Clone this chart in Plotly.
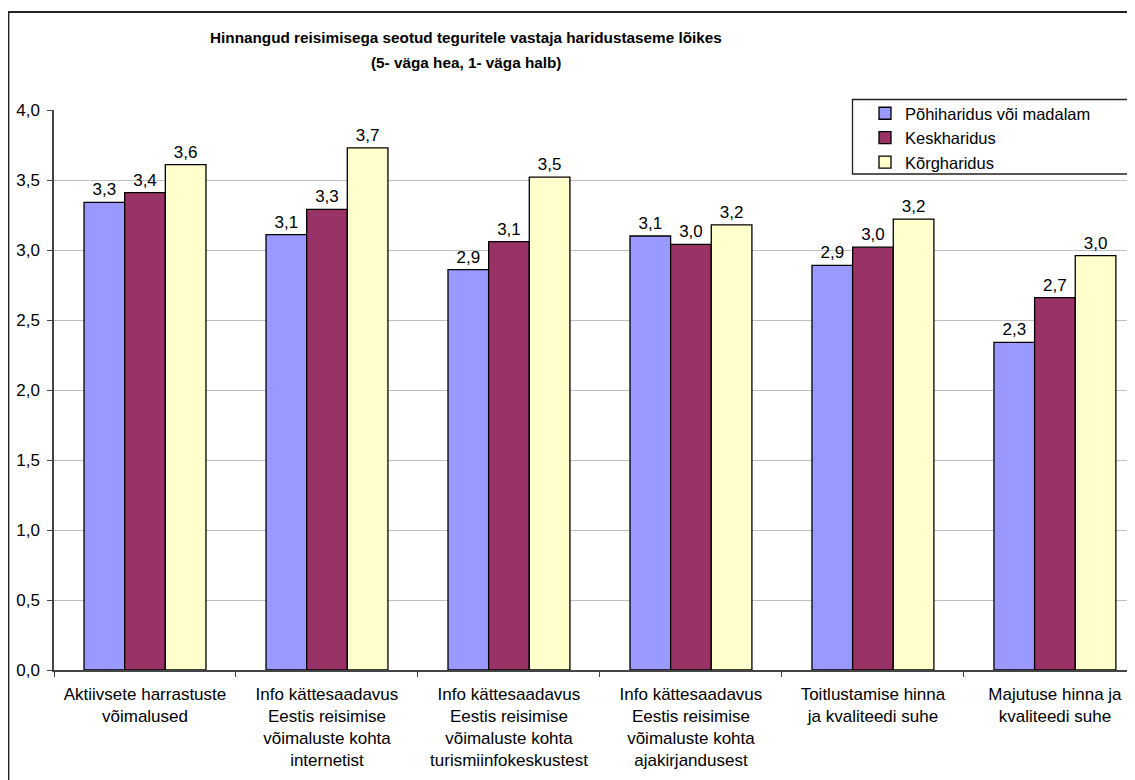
import plotly.graph_objects as go

categories = [
    "Aktiivsete harrastuste<br>võimalused",
    "Info kättesaadavus<br>Eestis reisimise<br>võimaluste kohta<br>internetist",
    "Info kättesaadavus<br>Eestis reisimise<br>võimaluste kohta<br>turismiinfokeskustest",
    "Info kättesaadavus<br>Eestis reisimise<br>võimaluste kohta<br>ajakirjandusest",
    "Toitlustamise hinna<br>ja kvaliteedi suhe",
    "Majutuse hinna ja<br>kvaliteedi suhe",
]
series_names = ["Põhiharidus või madalam", "Keskharidus", "Kõrgharidus"]
pohi = [3.34, 3.11, 2.86, 3.10, 2.89, 2.34]
kesk = [3.41, 3.29, 3.06, 3.04, 3.02, 2.66]
korg = [3.61, 3.73, 3.52, 3.18, 3.22, 2.96]
colors = ["#9999FF", "#993366", "#FFFFCC"]
y_ticks = [0, 0.5, 1.0, 1.5, 2.0, 2.5, 3.0, 3.5, 4.0]
title_lines = ["Hinnangud reisimisega seotud teguritele vastaja haridustaseme lõikes",
               "(5- väga hea, 1- väga halb)"]

FONT = "Liberation Sans, Arial, sans-serif"
FS = 17

W, H = 1127, 772
ML, MT, MB = 46, 102, 110
PW, PH = W - ML, H - MT - MB

def px(xp):
    return (xp - ML) / PW

def py(yp):
    return (H - MB - yp) / PH

fig = go.Figure()
for name, vals, col in zip(series_names, [pohi, kesk, korg], colors):
    fig.add_trace(go.Bar(
        x=categories, y=vals, name=name,
        marker=dict(color=col, line=dict(color="black", width=1.3)),
        texttemplate="%{y:.1f}", textposition="outside",
        textfont=dict(family=FONT, size=FS, color="black"),
        cliponaxis=False,
    ))

fig.update_layout(
    width=W, height=H,
    separators=", ",
    barmode="group", bargap=0.33, bargroupgap=0,
    plot_bgcolor="white", paper_bgcolor="white",
    margin=dict(l=ML, r=0, t=MT, b=MB, pad=0),
    font=dict(family=FONT, size=FS, color="black"),
    legend=dict(
        x=px(857), xanchor="left",
        y=py(88), yanchor="top",
        bgcolor="rgba(0,0,0,0)", borderwidth=0,
        font=dict(family=FONT, size=16.5, color="black"),
        traceorder="normal",
        tracegroupgap=0,
    ),
    showlegend=True,
)
for i, (line, yy) in enumerate(zip(title_lines, [29, 54])):
    fig.add_annotation(
        text="<b>" + line + "</b>", xref="paper", yref="paper",
        x=px(458), y=py(yy), xanchor="center", yanchor="middle",
        showarrow=False,
        font=dict(family=FONT, size=15.3, color="black"),
    )
fig.update_xaxes(
    type="category", range=[-0.5, 5.44],
    showline=True, linecolor="#444444", linewidth=1.5,
    ticks="outside", tickson="boundaries", ticklen=5, tickcolor="#444444",
    showgrid=False, tickangle=0, ticklabelstandoff=8,
    tickfont=dict(family=FONT, size=FS, color="black"),
)
fig.update_yaxes(
    range=[0, 4.0], tickvals=y_ticks, tickformat=".1f",
    showline=True, linecolor="#444444", linewidth=1.5,
    ticks="outside", ticklen=5, tickcolor="#444444",
    showgrid=True, gridcolor="#c0c0c0", gridwidth=1,
    zeroline=False, ticklabelstandoff=4,
    tickfont=dict(family=FONT, size=FS, color="black"),
)
# outer chart frame
fig.add_shape(
    type="rect", xref="paper", yref="paper",
    x0=px(0.5), x1=1.02, y0=py(H + 20), y1=py(4),
    line=dict(color="#222222", width=1.8), fillcolor="rgba(0,0,0,0)", layer="below",
)
# legend box
fig.add_shape(
    type="rect", xref="paper", yref="paper",
    x0=px(844.5), x1=px(1125), y0=py(166), y1=py(91.5),
    line=dict(color="#222222", width=1.3), fillcolor="white", layer="above",
)

fig.write_html("out.html")
